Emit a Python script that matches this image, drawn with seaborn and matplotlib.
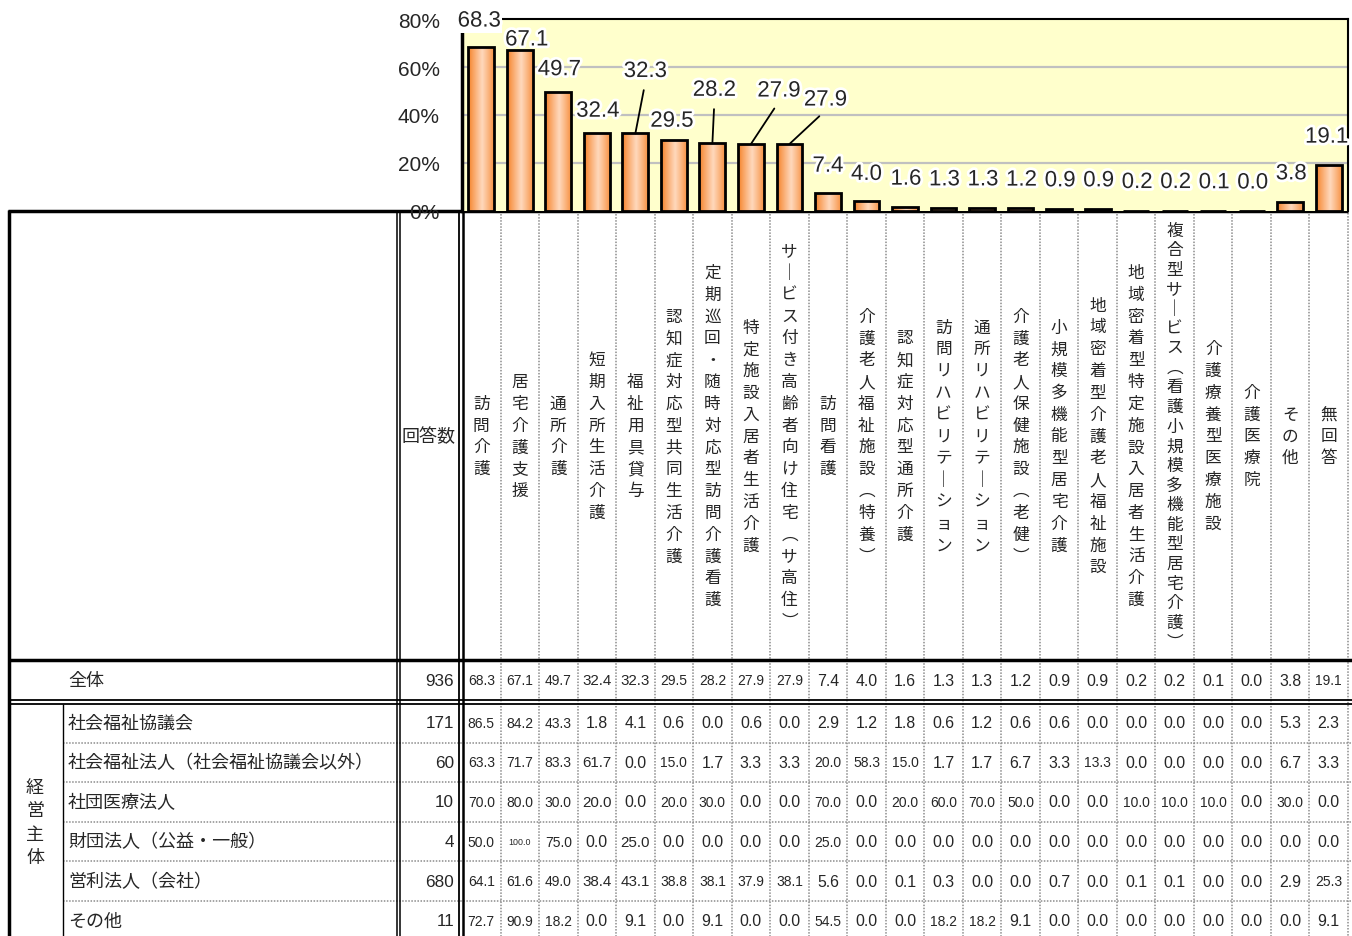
import numpy as np
import matplotlib
matplotlib.use("Agg")
import matplotlib.pyplot as plt
import matplotlib.patheffects as pe
from matplotlib import font_manager
import seaborn as sns

W, H = 1352, 937

# =========================
# DATA
# =========================
services = ["訪問介護", "居宅介護支援", "通所介護", "短期入所生活介護", "福祉用具貸与",
            "認知症対応型共同生活介護", "定期巡回・随時対応型訪問介護看護", "特定施設入居者生活介護",
            "サービス付き高齢者向け住宅（サ高住）", "訪問看護", "介護老人福祉施設（特養）",
            "認知症対応型通所介護", "訪問リハビリテーション", "通所リハビリテーション",
            "介護老人保健施設（老健）", "小規模多機能型居宅介護", "地域密着型介護老人福祉施設",
            "地域密着型特定施設入居者生活介護", "複合型サービス（看護小規模多機能型居宅介護）",
            "介護療養型医療施設", "介護医療院", "その他", "無回答"]

total_label = "全体"
total_count = 936
total_pct = [68.3, 67.1, 49.7, 32.4, 32.3, 29.5, 28.2, 27.9, 27.9, 7.4, 4.0, 1.6,
             1.3, 1.3, 1.2, 0.9, 0.9, 0.2, 0.2, 0.1, 0.0, 3.8, 19.1]

group_title = "経営主体"
row_names = ["社会福祉協議会", "社会福祉法人（社会福祉協議会以外）", "社団医療法人",
             "財団法人（公益・一般）", "営利法人（会社）", "その他"]
row_counts = [171, 60, 10, 4, 680, 11]

pct_shakyo = [86.5, 84.2, 43.3, 1.8, 4.1, 0.6, 0.0, 0.6, 0.0, 2.9, 1.2, 1.8,
              0.6, 1.2, 0.6, 0.6, 0.0, 0.0, 0.0, 0.0, 0.0, 5.3, 2.3]
pct_shafuku = [63.3, 71.7, 83.3, 61.7, 0.0, 15.0, 1.7, 3.3, 3.3, 20.0, 58.3, 15.0,
               1.7, 1.7, 6.7, 3.3, 13.3, 0.0, 0.0, 0.0, 0.0, 6.7, 3.3]
pct_iryo = [70.0, 80.0, 30.0, 20.0, 0.0, 20.0, 30.0, 0.0, 0.0, 70.0, 0.0, 20.0,
            60.0, 70.0, 50.0, 0.0, 0.0, 10.0, 10.0, 10.0, 0.0, 30.0, 0.0]
pct_zaidan = [50.0, 100.0, 75.0, 0.0, 25.0, 0.0, 0.0, 0.0, 0.0, 25.0, 0.0, 0.0,
              0.0, 0.0, 0.0, 0.0, 0.0, 0.0, 0.0, 0.0, 0.0, 0.0, 0.0]
pct_eiri = [64.1, 61.6, 49.0, 38.4, 43.1, 38.8, 38.1, 37.9, 38.1, 5.6, 0.0, 0.1,
            0.3, 0.0, 0.0, 0.7, 0.0, 0.1, 0.1, 0.0, 0.0, 2.9, 25.3]
pct_other = [72.7, 90.9, 18.2, 0.0, 9.1, 0.0, 9.1, 0.0, 0.0, 54.5, 0.0, 0.0,
             18.2, 18.2, 9.1, 0.0, 0.0, 0.0, 0.0, 0.0, 0.0, 0.0, 9.1]
group_pct = [pct_shakyo, pct_shafuku, pct_iryo, pct_zaidan, pct_eiri, pct_other]

y_ticks = [0, 20, 40, 60, 80]

# label offsets above bar top (pixels), leader lines for crowded ones
label_offsets = [(-2, 26), (7, 10), (1, 22), (1, 22), (10, 62), (-2, 19), (2, 53),
                 (28, 53), (36, 44), (0, 27), (0, 27)] + [(1, 28)] * 10 + [(1, 28), (-2, 28)]
leader_idx = {4, 6, 7, 8}

# =========================
# STYLE
# =========================
sns.set_style("white")
plt.rcParams['font.family'] = ['Noto Sans CJK JP', 'DejaVu Sans']
installed = {f.name for f in font_manager.fontManager.ttflist}
NARROW = 'Liberation Sans Narrow' in installed
NUM_FONT = ['Liberation Sans Narrow'] if NARROW else ['Liberation Sans']
NUM_SCALE = 1.0 if NARROW else 0.85
LBL_FONT = ['Liberation Sans', 'DejaVu Sans']

fig = plt.figure(figsize=(W / 100, H / 100), dpi=100)

# table layer in pixel coordinates
tab = fig.add_axes([0, 0, 1, 1])
tab.set_xlim(0, W)
tab.set_ylim(H, 0)
tab.axis("off")

X0, X1 = 462, 1348
col_w = (X1 - X0) / len(services)
col_edges = X0 + col_w * np.arange(len(services) + 1)
col_mid = (col_edges[:-1] + col_edges[1:]) / 2

TOP, HEAD_BOT, TOT_BOT = 212, 661, 702
row_top = 704
row_h = 39.6

# =========================
# BAR CHART
# =========================
ax = fig.add_axes([X0 / W, 1 - TOP / H, (X1 - X0) / W, (TOP - 20) / H])
ax.set_facecolor("#FFFFCC")

sns.barplot(x=services, y=total_pct, ax=ax, color="#F79646", width=0.67,
            edgecolor="black", linewidth=2.0, zorder=3)

edge_c = np.array([0.96, 0.50, 0.14])
mid_c = np.array([1.0, 0.85, 0.74])
t = np.linspace(0, 1, 64)
prof = np.clip(1 - np.abs(t - 0.55) / 0.55, 0, 1) ** 0.9
grad = (edge_c[None, :] * (1 - prof[:, None]) + mid_c[None, :] * prof[:, None])[None, :, :]

for p in ax.patches:
    p.set_facecolor("none")
    p.set_zorder(4)
    x0, w, h = p.get_x(), p.get_width(), p.get_height()
    if h <= 0:
        continue
    im = ax.imshow(grad, extent=[x0, x0 + w, 0, h], aspect="auto", zorder=3,
                   interpolation="bilinear")
    im.set_clip_path(p)

ax.set_xlim(-0.5, len(services) - 0.5)
ax.set_ylim(0, 80)
ax.set_yticks(y_ticks)
ax.set_yticklabels([f"{v}%" for v in y_ticks], fontsize=15, family=LBL_FONT)
ax.tick_params(axis="y", length=0, pad=16)
ax.set_xticks([])
ax.set_xlabel("")
for v in y_ticks[1:-1]:
    ax.axhline(v, color="#C0C0C0", lw=1.6, zorder=1)
ax.spines["bottom"].set_visible(False)
ax.spines["top"].set_linewidth(1.5)
ax.spines["right"].set_linewidth(1.5)
ax.spines["left"].set_linewidth(2.5)
for s in ["top", "right", "left"]:
    ax.spines[s].set_color("black")

for i, v in enumerate(total_pct):
    dx, dy = label_offsets[i]
    kw = {}
    if i in leader_idx:
        kw["arrowprops"] = dict(arrowstyle="-", color="black", lw=1.3, patchA=None,
                                relpos=(0.5, 0.0), shrinkA=6, shrinkB=0)
    if i == 0:
        kw["bbox"] = dict(boxstyle="square,pad=0.05", fc="white", ec="none")
    ax.annotate(f"{v:.1f}", xy=(i, v), xytext=(dx * 0.72, dy * 0.72),
                textcoords="offset points", ha="center", va="center",
                fontsize=16, family=LBL_FONT, annotation_clip=False, zorder=6,
                path_effects=[pe.withStroke(linewidth=4, foreground="white")], **kw)

# =========================
# TABLE
# =========================
def hline(y, x0, x1, **kw):
    tab.plot([x0, x1], [y, y], solid_capstyle="butt", **kw)

def vline(x, y0, y1, **kw):
    tab.plot([x, x], [y0, y1], solid_capstyle="butt", **kw)

dot = dict(color="#8C8C8C", lw=1.1, linestyle=(0, (1, 1)))
thin = dict(color="black", lw=1.0)

# row separators in the group block
for k in range(1, len(row_names)):
    hline(row_top + k * row_h, 63, W, **dot)
# column separators
for x in col_edges[1:-1]:
    vline(x, TOP, H, **dot)
vline(col_edges[-1], TOP + 2, H, **dot)

hline(TOP, 8, X1, color="black", lw=2.5)
hline(HEAD_BOT, 8, W, color="black", lw=2.5)
hline(TOT_BOT - 1, 8, W, color="black", lw=1.3)
hline(TOT_BOT + 2.5, 8, W, color="black", lw=1.3)
vline(9, TOP - 1, H, color="black", lw=2.5)
vline(63, TOT_BOT + 2.5, H, **thin)
vline(396.5, TOP, H, color="black", lw=1.1)
vline(399.5, TOP, H, color="black", lw=1.1)
vline(459, TOP, H, color="black", lw=1.3)
vline(462.5, TOP, H, color="black", lw=1.8)

# header cells
tab.text(429, 437, "回答数", ha="center", va="center", fontsize=13)

VERT = {"ー": "｜", "（": "︵", "）": "︶"}
for xm, name in zip(col_mid, services):
    n = len(name)
    pitch = min(21.8, 412 / max(n - 1, 1))
    for k, ch in enumerate(name):
        yk = 437 + (k - (n - 1) / 2) * pitch
        tab.text(xm, yk, VERT.get(ch, ch), ha="center", va="center", fontsize=12)


def cell_size(txt, col):
    if len(txt) >= 5:
        return 7.5 * NUM_SCALE
    if len(txt) == 4:
        return (12.8 if col in (3, 4) else 11.8) * NUM_SCALE
    return 13.5 * NUM_SCALE


def draw_row(yc, label, count, vals):
    tab.text(68, yc, label, ha="left", va="center", fontsize=13)
    tab.text(454, yc, str(count), ha="right", va="center", fontsize=14.5 * NUM_SCALE,
             family=NUM_FONT)
    for j, v in enumerate(vals):
        s = f"{v:.1f}"
        tab.text(col_mid[j], yc, s, ha="center", va="center",
                 fontsize=cell_size(s, j), family=NUM_FONT)


draw_row((HEAD_BOT + TOT_BOT) / 2, total_label, total_count, total_pct)
for k, (nm, cnt, vals) in enumerate(zip(row_names, row_counts, group_pct)):
    draw_row(row_top + (k + 0.5) * row_h, nm, cnt, vals)

# vertical group title
gc = row_top + 3 * row_h
for k, ch in enumerate(group_title):
    tab.text(35, gc + (k - 1.5) * 23.5, ch, ha="center", va="center", fontsize=13)

fig.savefig("out.png", dpi=100)
